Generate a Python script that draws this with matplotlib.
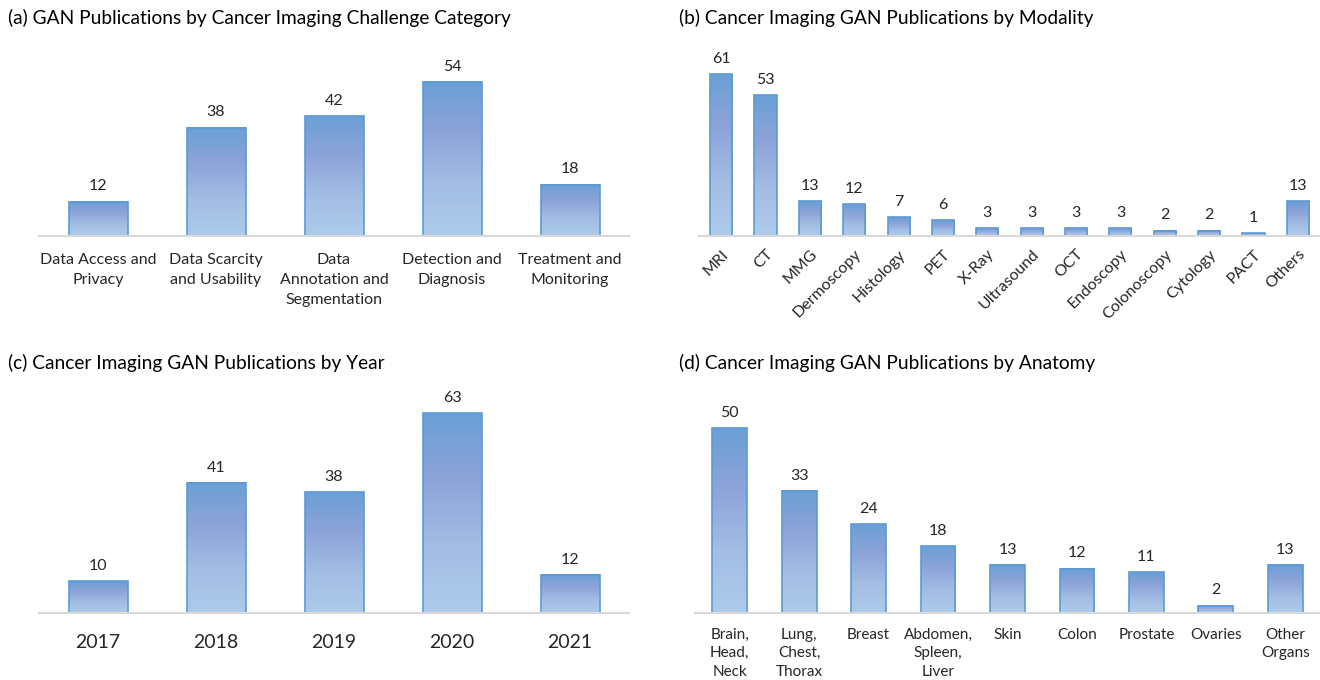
import numpy as np
import matplotlib
matplotlib.use("Agg")
import matplotlib.pyplot as plt
from matplotlib.colors import LinearSegmentedColormap

plt.rcParams['font.family'] = ['Lato', 'DejaVu Sans']

# data
challenge_labels = ["Data Access and\nPrivacy", "Data Scarcity\nand Usability",
                    "Data\nAnnotation and\nSegmentation", "Detection and\nDiagnosis",
                    "Treatment and\nMonitoring"]
challenge_counts = [12, 38, 42, 54, 18]

modality_labels = ["MRI", "CT", "MMG", "Dermoscopy", "Histology", "PET", "X-Ray",
                   "Ultrasound", "OCT", "Endoscopy", "Colonoscopy", "Cytology",
                   "PACT", "Others"]
modality_counts = [61, 53, 13, 12, 7, 6, 3, 3, 3, 3, 2, 2, 1, 13]

year_labels = ["2017", "2018", "2019", "2020", "2021"]
year_counts = [10, 41, 38, 63, 12]

anatomy_labels = ["Brain,\nHead,\nNeck", "Lung,\nChest,\nThorax", "Breast",
                  "Abdomen,\nSpleen,\nLiver", "Skin", "Colon", "Prostate",
                  "Ovaries", "Other\nOrgans"]
anatomy_counts = [50, 33, 24, 18, 13, 12, 11, 2, 13]

W, H = 1320, 680
fig = plt.figure(figsize=(W / 100, H / 100), dpi=100)

grad = LinearSegmentedColormap.from_list(
    "bar", ["#adcbea", "#a3bde4", "#8ea3d9", "#6aa0d6"])
gimg = np.linspace(0, 1, 256).reshape(-1, 1)


def px_axes(left, right, bottom, top):
    return fig.add_axes([left / W, 1 - bottom / H, (right - left) / W, (bottom - top) / H])


def panel(ax, labels, counts, ymax, tick_fs, val_fs, pad, rot=0, ls=1.25):
    x = np.arange(len(counts))
    bars = ax.bar(x, counts, width=0.5, facecolor="none", edgecolor="#5b9bd5",
                  linewidth=1.2, zorder=3)
    for b in bars:
        x0, w, h = b.get_x(), b.get_width(), b.get_height()
        ax.imshow(gimg, cmap=grad, origin="lower", aspect="auto",
                  extent=[x0, x0 + w, 0, h], zorder=2, interpolation="bicubic")
        ax.annotate(str(int(h)), (x0 + w / 2, h), xytext=(0, 6),
                    textcoords="offset points", ha="center", va="bottom",
                    fontsize=val_fs, color="#262626")
    ax.set_xlim(-0.5, len(counts) - 0.5)
    ax.set_ylim(0, ymax)
    ax.set_yticks([])
    ax.set_xticks(x)
    if rot:
        ax.set_xticklabels(labels, rotation=rot, ha="right", rotation_mode="anchor",
                           fontsize=tick_fs, color="#262626")
    else:
        ax.set_xticklabels(labels, fontsize=tick_fs, color="#262626",
                           linespacing=ls)
    ax.tick_params(axis="x", length=0, pad=pad)
    for s in ["top", "right", "left"]:
        ax.spines[s].set_visible(False)
    ax.spines["bottom"].set_color("#d9d9d9")
    ax.spines["bottom"].set_linewidth(1.5)
    ax.spines["bottom"].set_zorder(4)
    ax.set_facecolor("none")


ax_a = px_axes(39, 629, 236, 60)
panel(ax_a, challenge_labels, challenge_counts, 61.7, 11.5, 11.5, 12, ls=1.55)

ax_b = px_axes(699, 1320, 236, 60)
panel(ax_b, modality_labels, modality_counts, 66.3, 11.5, 11.5, 8, rot=45)

ax_c = px_axes(39, 629, 613, 400)
panel(ax_c, year_labels, year_counts, 67.1, 14, 11.5, 15)

ax_d = px_axes(695, 1320, 613, 400)
panel(ax_d, anatomy_labels, anatomy_counts, 57.6, 11, 11.5, 10.5, ls=1.42)

title_kw = dict(fontsize=13.8, color="#000000", va="center", ha="left")
fig.text(8 / W, 1 - 18 / H, "(a) GAN Publications by Cancer Imaging Challenge Category", **title_kw)
fig.text(679 / W, 1 - 18 / H, "(b) Cancer Imaging GAN Publications by Modality", **title_kw)
fig.text(8 / W, 1 - 363 / H, "(c) Cancer Imaging GAN Publications by Year", **title_kw)
fig.text(679 / W, 1 - 363 / H, "(d) Cancer Imaging GAN Publications by Anatomy", **title_kw)

fig.savefig("out.png", dpi=100, facecolor="white")
